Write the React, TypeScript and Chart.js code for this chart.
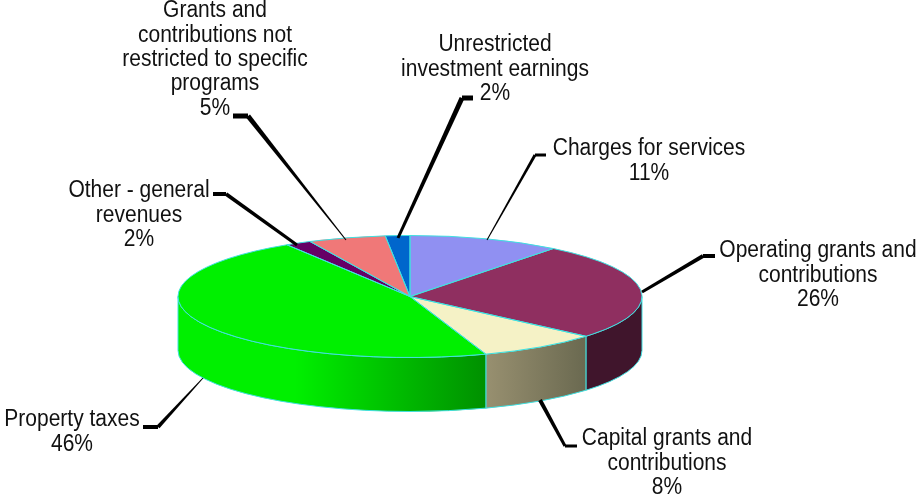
import React, { useEffect, useRef } from "react";
import { Chart, registerables } from "chart.js";

Chart.register(...registerables);

const categories = [
  "Charges for services",
  "Operating grants and contributions",
  "Capital grants and contributions",
  "Property taxes",
  "Other - general revenues",
  "Grants and contributions not restricted to specific programs",
  "Unrestricted investment earnings",
];
const shares = [10.6, 25.7, 8.4, 46.4, 1.8, 5.4, 1.7];
const topColors = ["#9090F2", "#8F2F60", "#F5F2C6", "#00F000", "#660066", "#F07878", "#0066CC"];
const sideDark = ["#404080", "#40152C", "#6A6950", "#009000", "#330033", "#804040", "#003366"];
const sideLight = ["#404080", "#40152C", "#989070", "#00F000", "#330033", "#804040", "#003366"];

const labelLines = [
  ["Charges for services", "11%"],
  ["Operating grants and", "contributions", "26%"],
  ["Capital grants and", "contributions", "8%"],
  ["Property taxes", "46%"],
  ["Other - general", "revenues", "2%"],
  ["Grants and", "contributions not", "restricted to specific", "programs", "5%"],
  ["Unrestricted", "investment earnings", "2%"],
];
// label centre x, first line centre y
const labelPos = [
  [649, 149],
  [818, 251],
  [667, 439],
  [72, 420],
  [139, 191],
  [215, 11],
  [495, 45],
];
// leader: tail end, elbow, end on pie, width at elbow, width at pie
const leaders = [
  [546, 155, 535, 155, 487, 240, 3, 1],
  [715, 256, 703, 256, 642, 292, 4, 3],
  [577, 446, 565, 446, 540, 400, 3, 4],
  [143, 427, 158, 427, 203, 378, 4, 1],
  [213, 194, 226, 194, 297, 245, 4, 3],
  [233, 116, 248, 116, 346, 240, 5, 1],
  [473, 98, 462, 98, 398, 238, 5, 3],
];

const SQUASH = 0.2629;
const RADIUS = 232;
const DEPTH = 54;
const EDGE = "#40E0E0";

const pie3d = {
  id: "pie3d",
  beforeDatasetDraw(chart: any) {
    const ctx = chart.ctx;
    const arcs = chart.getDatasetMeta(0).data;
    const cx = arcs[0].x;
    const cy = arcs[0].y;
    const ry = RADIUS * SQUASH;
    arcs.forEach((a: any, i: number) => {
      const s = Math.max(a.startAngle, 0);
      const e = Math.min(a.endAngle, Math.PI);
      if (e <= s) return;
      const x0 = cx + RADIUS * Math.cos(e);
      const x1 = cx + RADIUS * Math.cos(s);
      const g = ctx.createLinearGradient(x0, 0, x1, 0);
      g.addColorStop(0, sideLight[i]);
      if (i === 3) g.addColorStop(0.38, sideLight[i]);
      g.addColorStop(1, sideDark[i]);
      ctx.save();
      ctx.beginPath();
      ctx.ellipse(cx, cy, RADIUS, ry, 0, s, e);
      ctx.ellipse(cx, cy + DEPTH, RADIUS, ry, 0, e, s, true);
      ctx.closePath();
      ctx.fillStyle = g;
      ctx.fill();
      ctx.strokeStyle = EDGE;
      ctx.lineWidth = 1;
      ctx.stroke();
      ctx.restore();
    });
    ctx.save();
    ctx.translate(cx, cy);
    ctx.scale(1, SQUASH);
    ctx.translate(-cx, -cy);
  },
  afterDatasetDraw(chart: any) {
    const ctx = chart.ctx;
    ctx.restore();
    const arcs = chart.getDatasetMeta(0).data;
    const cx = arcs[0].x;
    const cy = arcs[0].y;
    const ry = RADIUS * SQUASH;
    arcs.forEach((a: any) => {
      ctx.save();
      ctx.beginPath();
      ctx.moveTo(cx, cy);
      ctx.ellipse(cx, cy, RADIUS, ry, 0, a.startAngle, a.endAngle);
      ctx.closePath();
      ctx.strokeStyle = EDGE;
      ctx.lineWidth = 1;
      ctx.stroke();
      ctx.restore();
    });
  },
  afterDraw(chart: any) {
    const ctx = chart.ctx;
    ctx.save();
    ctx.fillStyle = "#000";
    leaders.forEach(([ax, ay, bx, by, ex, ey, w0, w1]) => {
      ctx.fillRect(Math.min(ax, bx), ay - w0 / 2, Math.abs(bx - ax), w0);
      const dx = ex - bx;
      const dy = ey - by;
      const len = Math.hypot(dx, dy);
      const nx = -dy / len;
      const ny = dx / len;
      ctx.beginPath();
      ctx.moveTo(bx + (nx * w0) / 2, by + (ny * w0) / 2);
      ctx.lineTo(ex + (nx * w1) / 2, ey + (ny * w1) / 2);
      ctx.lineTo(ex - (nx * w1) / 2, ey - (ny * w1) / 2);
      ctx.lineTo(bx - (nx * w0) / 2, by - (ny * w0) / 2);
      ctx.closePath();
      ctx.fill();
    });
    ctx.font = '23px "Liberation Sans", Arial, sans-serif';
    ctx.textAlign = "center";
    ctx.textBaseline = "middle";
    ctx.fillStyle = "#111";
    labelLines.forEach((lines, i) => {
      const [x, y] = labelPos[i];
      lines.forEach((t, j) => {
        ctx.save();
        ctx.translate(x, y + j * 24.3);
        ctx.scale(0.913, 1);
        ctx.fillText(t, 0, 0);
        ctx.restore();
      });
    });
    ctx.restore();
  },
};

export default function App() {
  const ref = useRef<HTMLCanvasElement>(null);
  useEffect(() => {
    const chart = new Chart(ref.current as HTMLCanvasElement, {
      type: "pie",
      data: {
        labels: categories,
        datasets: [
          {
            data: shares,
            backgroundColor: topColors,
            borderWidth: 0,
            radius: RADIUS,
          } as any,
        ],
      },
      options: {
        animation: false,
        responsive: false,
        layout: { padding: { top: 93, left: 0, right: 99, bottom: 0 } },
        plugins: { legend: { display: false }, tooltip: { enabled: false } },
      },
      plugins: [pie3d],
    } as any);
    return () => chart.destroy();
  }, []);
  return (
    <div style={{ position: "absolute", left: 0, top: 0, width: 919, height: 500, background: "#fff" }}>
      <canvas ref={ref} width={919} height={500} style={{ display: "block" }} />
    </div>
  );
}
